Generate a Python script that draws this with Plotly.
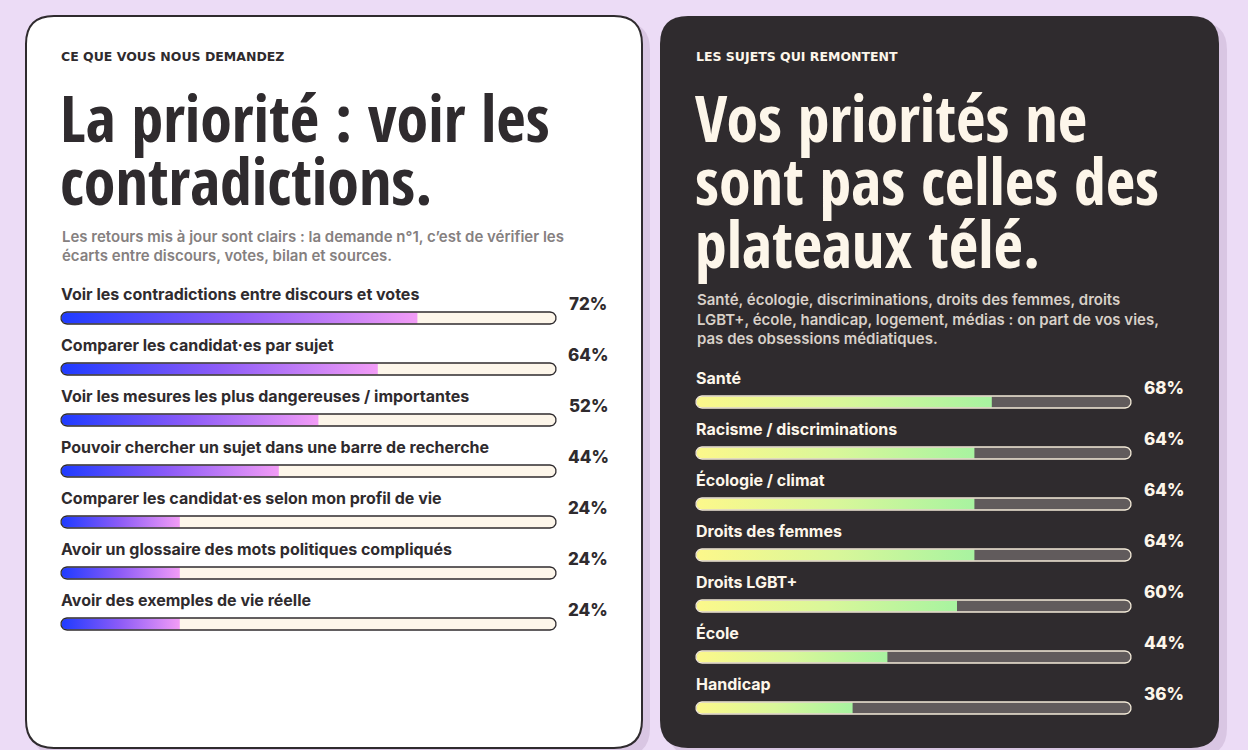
import math
import plotly.graph_objects as go

# ---- données ----
left_kicker = "CE QUE VOUS NOUS DEMANDEZ"
left_title = ["La priorité : voir les", "contradictions."]
left_sub = ["Les retours mis à jour sont clairs : la demande n°1, c’est de vérifier les",
            "écarts entre discours, votes, bilan et sources."]
left_labels = ["Voir les contradictions entre discours et votes",
               "Comparer les candidat·es par sujet",
               "Voir les mesures les plus dangereuses / importantes",
               "Pouvoir chercher un sujet dans une barre de recherche",
               "Comparer les candidat·es selon mon profil de vie",
               "Avoir un glossaire des mots politiques compliqués",
               "Avoir des exemples de vie réelle"]
left_values = [72, 64, 52, 44, 24, 24, 24]

right_kicker = "LES SUJETS QUI REMONTENT"
right_title = ["Vos priorités ne", "sont pas celles des", "plateaux télé."]
right_sub = ["Santé, écologie, discriminations, droits des femmes, droits",
             "LGBT+, école, handicap, logement, médias : on part de vos vies,",
             "pas des obsessions médiatiques."]
right_labels = ["Santé", "Racisme / discriminations", "Écologie / climat",
                "Droits des femmes", "Droits LGBT+", "École", "Handicap"]
right_values = [68, 64, 64, 64, 60, 44, 36]

# ---- style ----
W, H = 1248, 750
BG = "#ecdcf6"
SHADOW = "#d9c6e3"
DARK = "#2f2b2e"
CREAM = "#fdf6ea"
BODY = "Inter, 'Noto Sans', sans-serif"
KICK = "'DejaVu Sans', Inter, sans-serif"
HEAD = "'Liberation Sans Narrow', 'Open Sans Condensed', 'DejaVu Sans Condensed', 'Arial Narrow', sans-serif"
ROW = 51  # px entre deux lignes


def X(x):
    return x / W


def Y(y):
    return 1 - y / H


def card_path(x0, y0, x1, y1, r):
    return (f"M {X(x0 + r)},{Y(y0)} L {X(x1 - r)},{Y(y0)} Q {X(x1)},{Y(y0)} {X(x1)},{Y(y0 + r)} "
            f"L {X(x1)},{Y(y1 - r)} Q {X(x1)},{Y(y1)} {X(x1 - r)},{Y(y1)} "
            f"L {X(x0 + r)},{Y(y1)} Q {X(x0)},{Y(y1)} {X(x0)},{Y(y1 - r)} "
            f"L {X(x0)},{Y(y0 + r)} Q {X(x0)},{Y(y0)} {X(x0 + r)},{Y(y0)} Z")


def pill(x0, x1, yc, rx, ry, round_right=True, n=14):
    xs, ys = [], []
    for k in range(n + 1):
        a = math.pi / 2 + math.pi * k / n
        xs.append(x0 + rx + rx * math.cos(a))
        ys.append(yc + ry * math.sin(a))
    if round_right:
        for k in range(n + 1):
            a = -math.pi / 2 + math.pi * k / n
            xs.append(x1 - rx + rx * math.cos(a))
            ys.append(yc + ry * math.sin(a))
    else:
        xs += [x1, x1]
        ys += [yc - ry, yc + ry]
    xs.append(xs[0])
    ys.append(ys[0])
    return xs, ys


fig = go.Figure()
shapes = []
annotations = []

# cartes
shapes.append(dict(type="path", path=card_path(32, 22, 650, 756, 28), xref="paper", yref="paper",
                   fillcolor=SHADOW, line_width=0, layer="below"))
shapes.append(dict(type="path", path=card_path(26, 16, 642, 748, 28), xref="paper", yref="paper",
                   fillcolor="white", line=dict(color=DARK, width=2), layer="below"))
shapes.append(dict(type="path", path=card_path(668, 22, 1227, 756, 28), xref="paper", yref="paper",
                   fillcolor=SHADOW, line_width=0, layer="below"))
shapes.append(dict(type="path", path=card_path(660, 16, 1219, 748, 28), xref="paper", yref="paper",
                   fillcolor=DARK, line_width=0, layer="below"))


def panel(xa, ya, x_left, x_right, first_bar, labels, values, grad, track, border, txt, pct_shift):
    sx = (x_right - x_left) / 100
    sy = ROW
    # pistes
    tx, ty = [], []
    for i in range(len(values)):
        a, b = pill(0, 100, i, 6 / sx, 6 / sy)
        tx += a + [None]
        ty += b + [None]
    fig.add_trace(go.Scatter(x=tx, y=ty, xaxis=xa, yaxis=ya, mode="lines", fill="toself",
                             fillcolor=track, line=dict(width=0), hoverinfo="skip", showlegend=False))
    # remplissages en dégradé
    for i, v in enumerate(values):
        a, b = pill(0.5 / sx, v, i, 5.5 / sx, 5.5 / sy, round_right=False)
        fig.add_trace(go.Scatter(x=a, y=b, xaxis=xa, yaxis=ya, mode="lines", fill="toself",
                                 fillgradient=dict(type="horizontal", colorscale=[[0, grad[0]], [0.5, grad[1]], [1, grad[2]]]),
                                 line=dict(width=0), hoverinfo="skip", showlegend=False,
                                 name=labels[i]))
    # contours
    fig.add_trace(go.Scatter(x=tx, y=ty, xaxis=xa, yaxis=ya, mode="lines",
                             line=dict(width=1.3, color=border), hoverinfo="skip", showlegend=False))
    for i, (lab, v) in enumerate(zip(labels, values)):
        annotations.append(dict(xref=xa, yref=ya, x=0, y=i - 24 / sy, text=lab, showarrow=False,
                                xanchor="left", yanchor="middle", xshift=-2,
                                font=dict(family=BODY, size=16, color=txt, weight=700)))
        annotations.append(dict(xref=xa, yref=ya, x=100, y=i - 14 / sy, text=f"{v}%", showarrow=False,
                                xanchor="center", yanchor="middle", xshift=pct_shift,
                                font=dict(family=BODY, size=17, color=txt, weight=800)))
    pad = 3
    dom = [(x_left - pad * sx) / W, (x_right + pad * sx) / W]
    yr = [(H - first_bar) / ROW, -first_bar / ROW]
    return dom, yr


dom1, yr1 = panel("x", "y", 61, 556, 318, left_labels, left_values,
                  ["#1f3bff", "#8e5cf7", "#f29cf6"], CREAM, DARK, DARK, 32)
dom2, yr2 = panel("x2", "y2", 696, 1131, 402, right_labels, right_values,
                  ["#fcf88b", "#d9f79a", "#a8f3a0"], "#615b5c", "#f3ead8", CREAM, 33)

# textes gauche
annotations.append(dict(xref="paper", yref="paper", x=X(59), y=Y(57), text=left_kicker, showarrow=False,
                        xanchor="left", yanchor="middle", font=dict(family=KICK, size=12.5, color=DARK, weight=700)))
for k, line in enumerate(left_title):
    annotations.append(dict(xref="paper", yref="paper", x=X(58), y=Y(117 + 63 * k), text=line, showarrow=False,
                            xanchor="left", yanchor="middle", font=dict(family=HEAD, size=64, color=DARK, weight=700)))
for k, line in enumerate(left_sub):
    annotations.append(dict(xref="paper", yref="paper", x=X(60), y=Y(236 + 20 * k), text=line, showarrow=False,
                            xanchor="left", yanchor="middle", font=dict(family=BODY, size=15, color="#85807f", weight=600)))

# textes droite
annotations.append(dict(xref="paper", yref="paper", x=X(694), y=Y(57), text=right_kicker, showarrow=False,
                        xanchor="left", yanchor="middle", font=dict(family=KICK, size=12.5, color=CREAM, weight=700)))
for k, line in enumerate(right_title):
    annotations.append(dict(xref="paper", yref="paper", x=X(693), y=Y(117 + 63 * k), text=line, showarrow=False,
                            xanchor="left", yanchor="middle", font=dict(family=HEAD, size=64, color=CREAM, weight=700)))
for k, line in enumerate(right_sub):
    annotations.append(dict(xref="paper", yref="paper", x=X(695), y=Y(299 + 20 * k), text=line, showarrow=False,
                            xanchor="left", yanchor="middle", font=dict(family=BODY, size=15, color="#d8d0c8", weight=600)))

ax = dict(visible=False, fixedrange=True, showgrid=False, zeroline=False)
fig.update_layout(
    width=W, height=H,
    margin=dict(l=0, r=0, t=0, b=0),
    paper_bgcolor=BG, plot_bgcolor="rgba(0,0,0,0)",
    xaxis=dict(ax, domain=dom1, range=[-3, 103], anchor="y"),
    yaxis=dict(ax, domain=[0, 1], range=yr1, anchor="x"),
    xaxis2=dict(ax, domain=dom2, range=[-3, 103], anchor="y2"),
    yaxis2=dict(ax, domain=[0, 1], range=yr2, anchor="x2"),
    shapes=shapes,
    annotations=annotations,
    showlegend=False,
)

fig.write_html("out.html", config={"displayModeBar": False},
               post_script="document.body.style.margin='0';document.body.style.overflow='hidden';")
